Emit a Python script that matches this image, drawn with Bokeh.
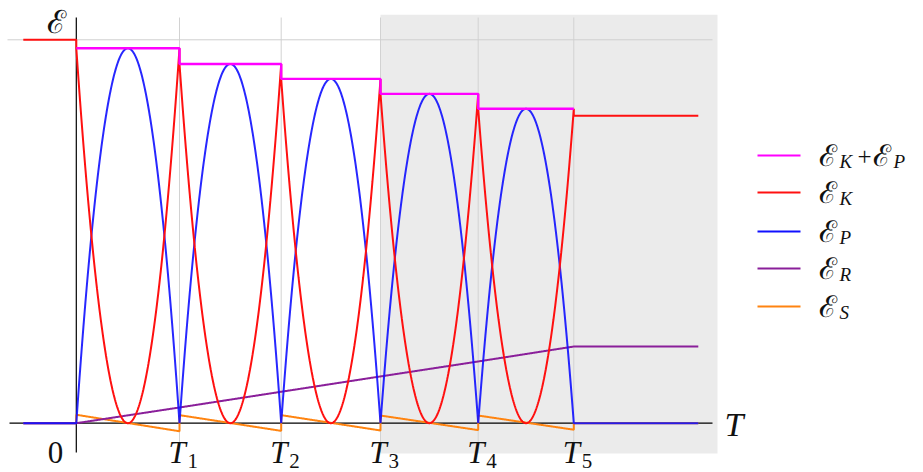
import numpy as np
from bokeh.plotting import figure
from bokeh.models import Range1d
from bokeh.core.properties import value
from bokeh.embed import file_html
from bokeh.resources import INLINE

# ---------------- data ----------------
T_MARKS = [0.0, 1.032, 2.049, 3.042, 4.019, 4.975]   # 0, T1..T5
T_SUBS = ["1", "2", "3", "4", "5"]
LEVELS = [0.978, 0.937, 0.898, 0.859, 0.820]          # E_K+E_P in each period
E_START = 1.0                                          # energy before t=0
E_K_FINAL = 0.802                                      # E_K after T5
ER_AT_MARKS = [0.0, 0.041, 0.082, 0.122, 0.161, 0.200]  # E_R at 0, T1..T5
ES_START = [0.022, 0.021, 0.021, 0.020, 0.020]         # E_S just after each T_k
ES_END = [-0.021, -0.020, -0.019, -0.018, -0.017]      # E_S just before T_{k+1}
T_PRE, T_POST = -0.53, 6.22                            # extent of the curves

SERIES = ["K+P", "K", "P", "R", "S"]
COLORS = ["#ff00ff", "#ff1010", "#1010ff", "#8a1f9a", "#ff8410"]

# ---------------- page-pixel helpers (layout only) ----------------
OX, OY, SX, SY = 75.8, 422.7, 100.0, 383.4
def X(px): return (px - OX) / SX
def Y(py): return (OY - py) / SY

W, H = 923, 472
p = figure(width=W, height=H, output_backend="svg", toolbar_location=None,
           x_range=Range1d(X(0), X(W)), y_range=Range1d(Y(H), Y(0)),
           x_axis_type=None, y_axis_type=None, min_border=0)
p.grid.visible = False
p.outline_line_color = None
p.background_fill_color = "white"

# shaded region from T3
p.quad(left=[T_MARKS[3]], right=[X(717)], bottom=[Y(453)], top=[Y(14.3)],
       fill_color="#ebebeb", line_color=None)

# grid lines
p.segment(x0=T_MARKS[1:], x1=T_MARKS[1:], y0=[Y(452)] * 5, y1=[Y(17)] * 5,
          line_color="#d2d2d2", line_width=1)
p.segment(x0=[X(7)], x1=[X(712)], y0=[E_START], y1=[E_START],
          line_color="#cfcfcf", line_width=1)

# axes
p.segment(x0=[0], x1=[0], y0=[Y(452)], y1=[Y(17)], line_color="black", line_width=1.2)
p.segment(x0=[X(9)], x1=[X(712)], y0=[0], y1=[0], line_color="black", line_width=1.2)

# ---------------- build curves ----------------
tk, ek, ep, es, er = [T_PRE, 0.0], [E_START, E_START], [0.0, 0.0], [0.0, 0.0], [0.0, 0.0]
mt, mv = [], []
for k, A in enumerate(LEVELS):
    a, b = T_MARKS[k], T_MARKS[k + 1]
    u = np.linspace(0, 1, 161)
    t = a + u * (b - a)
    tk += list(t)
    ek += list(A * (1 - 2 * u) ** 2)
    ep += list(A * 4 * u * (1 - u))
    es += list(ES_START[k] + u * (ES_END[k] - ES_START[k]))
    er += list(ER_AT_MARKS[k] + u * (ER_AT_MARKS[k + 1] - ER_AT_MARKS[k]))
    mt += [a, b]
    mv += [A, A]
T5 = T_MARKS[-1]
tk += [T5, T_POST]
ek += [E_K_FINAL, E_K_FINAL]
ep += [0.0, 0.0]
es += [0.0, 0.0]
er += [ER_AT_MARKS[-1], ER_AT_MARKS[-1]]

lw = 2.0
p.line(tk, es, line_color=COLORS[4], line_width=lw)
p.line(tk, er, line_color=COLORS[3], line_width=lw)
p.line(tk, ep, line_color=COLORS[2], line_width=lw, line_alpha=0.9)
p.line(tk, ek, line_color=COLORS[1], line_width=lw)
p.line(mt, mv, line_color=COLORS[0], line_width=2.4)

# ---------------- texts ----------------
serif = value("Liberation Serif")
script = value("DejaVu Serif")
INK = "#111111"

# T_k tick labels
p.text(x=[t - 0.11 for t in T_MARKS[1:]], y=[Y(452)] * 5, text=["T"] * 5,
       text_font=serif, text_font_style="italic", text_font_size="31px",
       text_baseline="middle", text_align="left", text_color=INK)
p.text(x=[t + 0.08 for t in T_MARKS[1:]], y=[Y(460)] * 5, text=T_SUBS,
       text_font=serif, text_font_size="21px",
       text_baseline="middle", text_align="left", text_color=INK)
p.text(x=[X(55)], y=[Y(452)], text=["0"], text_font=serif, text_font_size="31px",
       text_baseline="middle", text_align="center", text_color=INK)
p.text(x=[X(724)], y=[Y(424)], text=["T"], text_font=serif, text_font_style="italic",
       text_font_size="34px", text_baseline="middle", text_align="left", text_color=INK)
p.text(x=[X(46)], y=[Y(21)], text=["ℰ"], text_font=script, text_font_size="32px",
       text_baseline="middle", text_align="left", text_color=INK)

# legend
LEG_Y = [155, 192, 231, 268, 306]
p.segment(x0=[X(757)] * 5, x1=[X(800)] * 5, y0=[Y(v) for v in LEG_Y],
          y1=[Y(v) for v in LEG_Y], line_color=COLORS, line_width=1.8)
main_x, main_y, main_t = [], [], []
sub_x, sub_y, sub_t = [], [], []
for name, yc in zip(SERIES, LEG_Y):
    if name == "K+P":
        main_x += [X(818), X(872)]
        main_y += [Y(yc)] * 2
        main_t += ["ℰ", "ℰ"]
        sub_x += [X(839), X(893)]
        sub_y += [Y(yc + 6)] * 2
        sub_t += ["K", "P"]
    else:
        main_x.append(X(818))
        main_y.append(Y(yc))
        main_t.append("ℰ")
        sub_x.append(X(839))
        sub_y.append(Y(yc + 6))
        sub_t.append(name)
p.text(x=main_x, y=main_y, text=main_t, text_font=script, text_font_size="30px",
       text_baseline="middle", text_align="left", text_color=INK)
p.text(x=sub_x, y=sub_y, text=sub_t, text_font=serif, text_font_style="italic",
       text_font_size="19px", text_baseline="middle", text_align="left", text_color=INK)
p.text(x=[X(857)], y=[Y(156)], text=["+"], text_font=serif, text_font_size="25px",
       text_baseline="middle", text_align="left", text_color=INK)

open("out.html", "w").write(file_html(p, INLINE))
